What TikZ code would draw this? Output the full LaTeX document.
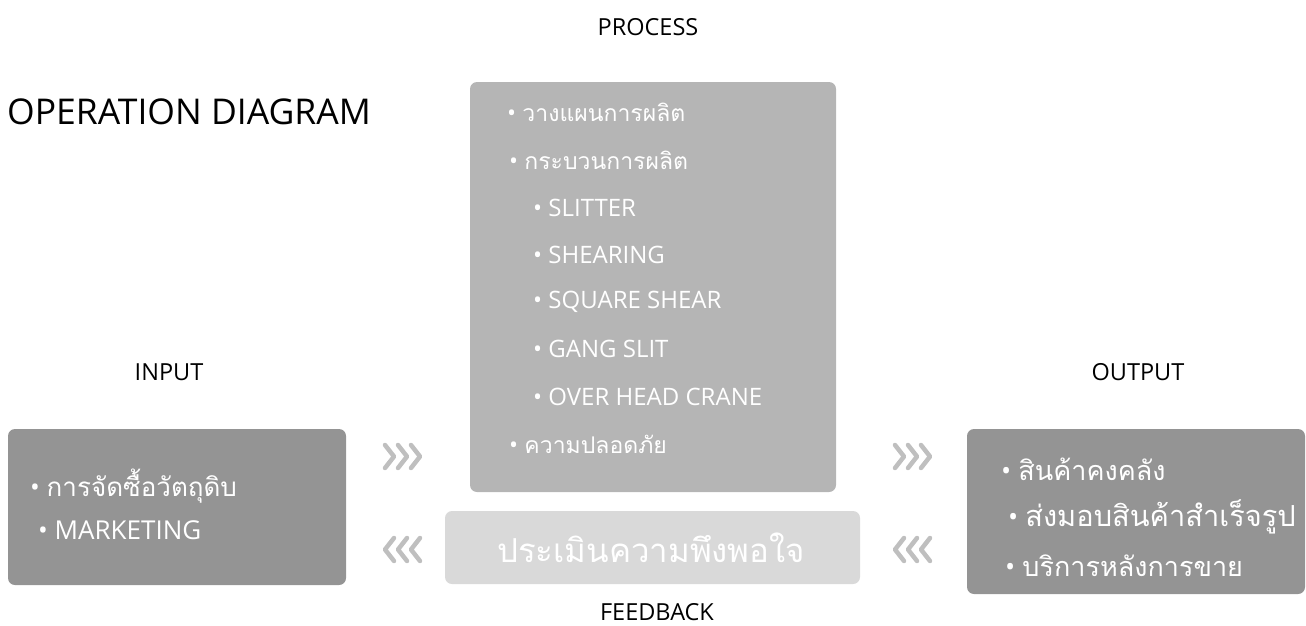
\documentclass[tikz,border=0pt]{standalone}
\usepackage{fontspec}
\setmainfont{Open Sans}
\newfontfamily\thai[Script=Thai]{Loma}
\begin{document}
\begin{tikzpicture}[x=1pt,y=-1pt,
  box/.style={rounded corners=7pt, draw=none},
  lbl/.style={text=black, font=\fontsize{23.5}{26}\selectfont, inner sep=0pt},
  item/.style={text=white, anchor=west, inner sep=0pt},
  chev/.style={draw=black!25, line width=4.5pt, line cap=round, line join=round}]
\useasboundingbox (0,0) rectangle (1306,626);
% boxes
\fill[box, fill=black!42] (8,429) rectangle (346,585);
\fill[box, fill=black!29] (470,82) rectangle (836,492);
\fill[box, fill=black!15] (445,511) rectangle (860,584);
\fill[box, fill=black!42] (967,429) rectangle (1305,594);
% labels
\node[lbl] (process) at (648,27) {PROCESS};
\node[lbl] (input) at (169,372) {INPUT};
\node[lbl] (output) at (1138,372) {OUTPUT};
\node[lbl] (feedback) at (657,612) {FEEDBACK};
\node[text=black, anchor=west, inner sep=0pt, font=\fontsize{35.5}{38}\selectfont] (title) at (7,112) {OPERATION DIAGRAM};
% process items
\begin{scope}[font=\fontsize{24}{27}\selectfont]
\node[item] (p1) at (507,112) {• \thai\fontsize{23}{26}\selectfont วางแผนการผลิต};
\node[item] (p2) at (509,160) {• \thai\fontsize{23}{26}\selectfont กระบวนการผลิต};
\node[item] (p3) at (533,208) {• SLITTER};
\node[item] (p4) at (533,255) {• SHEARING};
\node[item] (p5) at (533,302) {• SQUARE SHEAR};
\node[item] (p6) at (533,349) {• GANG SLIT};
\node[item] (p7) at (533,397) {• OVER HEAD CRANE};
\node[item] (p8) at (509,444) {• \thai\fontsize{23}{26}\selectfont ความปลอดภัย};
\end{scope}
% input items
\begin{scope}[font=\fontsize{26}{29}\selectfont]
\node[item] (i1) at (30,486) {• \thai การจัดซื้อวัตถุดิบ};
\node[item] (i2) at (38,530) {• MARKETING};
\end{scope}
\begin{scope}[font=\fontsize{27}{30}\selectfont]
\node[item] (o1) at (1001,469) {• \thai สินค้าคงคลัง};
\node[item] (o2) at (1008,517) {• \thai\fontsize{29}{32}\selectfont ส่งมอบสินค้าสำเร็จรูป};
\node[item] (o3) at (1005,566) {• \thai บริการหลังการขาย};
\end{scope}
\node[text=white, inner sep=0pt, font=\thai\fontsize{33}{36}\selectfont] (fb) at (651,548) {ประเมินความพึงพอใจ};
% chevrons
\foreach \x in {385,398,411} {
  \draw[chev] (\x,445) -- (\x+9,456.5) -- (\x,468);
  \draw[chev] (\x+510,445) -- (\x+519,456.5) -- (\x+510,468);
  \draw[chev] (\x+9,538) -- (\x,549.5) -- (\x+9,561);
  \draw[chev] (\x+519,538) -- (\x+510,549.5) -- (\x+519,561);
}
\end{tikzpicture}
\end{document}
